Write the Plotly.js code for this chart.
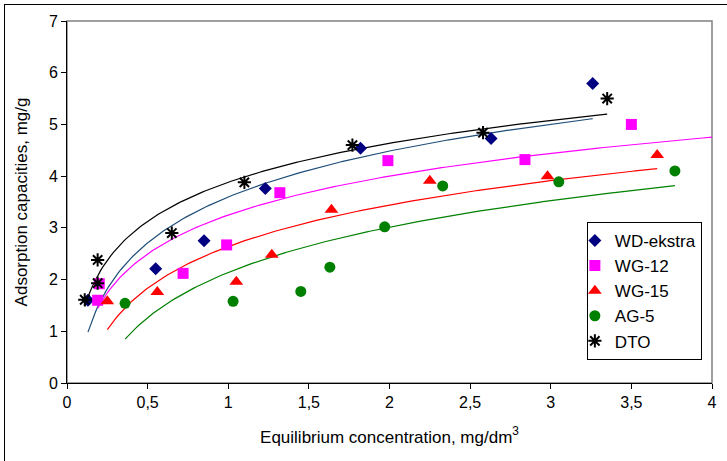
<!DOCTYPE html>
<html>
<head>
<meta charset="utf-8">
<script src="https://cdn.plot.ly/plotly-3.0.1.min.js"></script>
<style>
  html, body { margin: 0; padding: 0; background: #fff; overflow: hidden; }
  #chart { width: 727px; height: 461px; }
  #frame { position: absolute; left: 4px; top: 4px; width: 760px; height: 500px;
           border: 1px solid #000; pointer-events: none; }
</style>
</head>
<body>
<div id="chart"></div>
<div id="frame"></div>
<script>
// ---- data ----
const seriesNames = ["WD-ekstra", "WG-12", "WG-15", "AG-5", "DTO"];

const wdX = [0.13, 0.55, 0.85, 1.23, 1.82, 2.63, 3.26];
const wdY = [1.60, 2.21, 2.75, 3.76, 4.54, 4.73, 5.79];

const wg12X = [0.19, 0.20, 0.72, 0.99, 1.32, 1.99, 2.84, 3.50];
const wg12Y = [1.60, 1.92, 2.12, 2.67, 3.68, 4.30, 4.32, 5.00];

const wg15X = [0.25, 0.56, 1.05, 1.27, 1.64, 2.25, 2.98, 3.66];
const wg15Y = [1.58, 1.76, 1.96, 2.48, 3.35, 3.91, 4.00, 4.41];

const ag5X = [0.36, 1.03, 1.45, 1.63, 1.97, 2.33, 3.05, 3.77];
const ag5Y = [1.54, 1.58, 1.77, 2.24, 3.02, 3.81, 3.89, 4.10];

const dtoX = [0.11, 0.19, 0.19, 0.65, 1.10, 1.77, 2.58, 3.35];
const dtoY = [1.61, 1.93, 2.38, 2.90, 3.88, 4.60, 4.84, 5.50];

// trendline x-extent end (WG-12 trendline is extended forward to the axis end)
const trendEnd = [null, 4.0, null, null, null];

const xTicks = [0, 0.5, 1, 1.5, 2, 2.5, 3, 3.5, 4];
const yTicks = [0, 1, 2, 3, 4, 5, 6, 7];

// ---- styles ----
const markerStyles = [
  {symbol: "diamond", color: "#000080", size: 10},
  {symbol: "square", color: "#FF00FF", size: 11},
  {symbol: "triangle-up", color: "#FF0000", size: 12},
  {symbol: "circle", color: "#008000", size: 11},
  {symbol: "asterisk-open", color: "#000000", size: 11, line: {color: "#000000", width: 2}}
];
const lineColors = ["#1F4E79", "#FF00FF", "#FF0000", "#008000", "#000000"];

// logarithmic trendline (least squares on ln x), like a spreadsheet trendline
function logFit(xs, ys) {
  const lx = xs.map(Math.log);
  const n = xs.length;
  const mx = lx.reduce((a, b) => a + b, 0) / n;
  const my = ys.reduce((a, b) => a + b, 0) / n;
  let sxy = 0, sxx = 0;
  for (let i = 0; i < n; i++) { sxy += (lx[i] - mx) * (ys[i] - my); sxx += (lx[i] - mx) ** 2; }
  const a = sxy / sxx;
  return {a: a, b: my - a * mx};
}

const allX = [wdX, wg12X, wg15X, ag5X, dtoX];
const allY = [wdY, wg12Y, wg15Y, ag5Y, dtoY];

const traces = [];
for (let s = 0; s < 5; s++) {
  const f = logFit(allX[s], allY[s]);
  const x0 = Math.min(...allX[s]);
  const x1 = trendEnd[s] !== null ? trendEnd[s] : Math.max(...allX[s]);
  const cx = [], cy = [];
  const N = 200;
  for (let k = 0; k <= N; k++) {
    const x = x0 + (x1 - x0) * k / N;
    cx.push(x); cy.push(f.a * Math.log(x) + f.b);
  }
  traces.push({x: cx, y: cy, type: "scatter", mode: "lines",
    line: {color: lineColors[s], width: 1.2}, showlegend: false,
    legendgroup: "g" + s, hoverinfo: "skip"});
}
for (let s = 0; s < 5; s++) {
  const m = markerStyles[s];
  traces.push({x: allX[s], y: allY[s], type: "scatter", mode: "markers",
    name: seriesNames[s], legendgroup: "g" + s,
    marker: {symbol: m.symbol, color: m.color, size: m.size,
             line: m.line || {width: 0}}});
}

const FONT = "Liberation Sans, Arial, sans-serif";
const layout = {
  width: 727, height: 461,
  margin: {l: 66.5, r: 14.5, t: 20.7, b: 77.7, pad: 0},
  paper_bgcolor: "rgba(0,0,0,0)", plot_bgcolor: "#fff",
  separators: ", ",
  font: {family: FONT, size: 16, color: "#000"},
  showlegend: true,
  legend: {x: 0.806, y: 0.445, xanchor: "left", yanchor: "top",
    bordercolor: "#000", borderwidth: 1, bgcolor: "#fff",
    font: {family: FONT, size: 17, color: "#000"},
    tracegroupgap: 0, indentation: -13, traceorder: "grouped"},
  xaxis: {range: [0, 4], tickvals: xTicks, ticks: "outside", ticklen: 5,
    tickcolor: "#000", showline: true, linecolor: "#000", linewidth: 1,
    showgrid: false, zeroline: false, automargin: false,
    tickfont: {family: FONT, size: 16},
    title: {text: "Equilibrium concentration, mg/dm<sup>3</sup>", standoff: 20,
      font: {family: FONT, size: 17}}},
  yaxis: {range: [0, 7], tickvals: yTicks, ticks: "outside", ticklen: 5,
    tickcolor: "#000", showline: true, linecolor: "#000", linewidth: 1,
    showgrid: false, zeroline: false, automargin: false,
    tickfont: {family: FONT, size: 16},
    title: {text: "Adsorption capacities, mg/g", standoff: 16,
      font: {family: FONT, size: 17}}},
  shapes: [{type: "rect", xref: "paper", yref: "paper", x0: 0, x1: 1, y0: 0, y1: 1,
    line: {color: "#808080", width: 1.5}, layer: "below"}]
};

Plotly.newPlot("chart", traces, layout, {displayModeBar: false, staticPlot: true});
</script>
</body>
</html>
